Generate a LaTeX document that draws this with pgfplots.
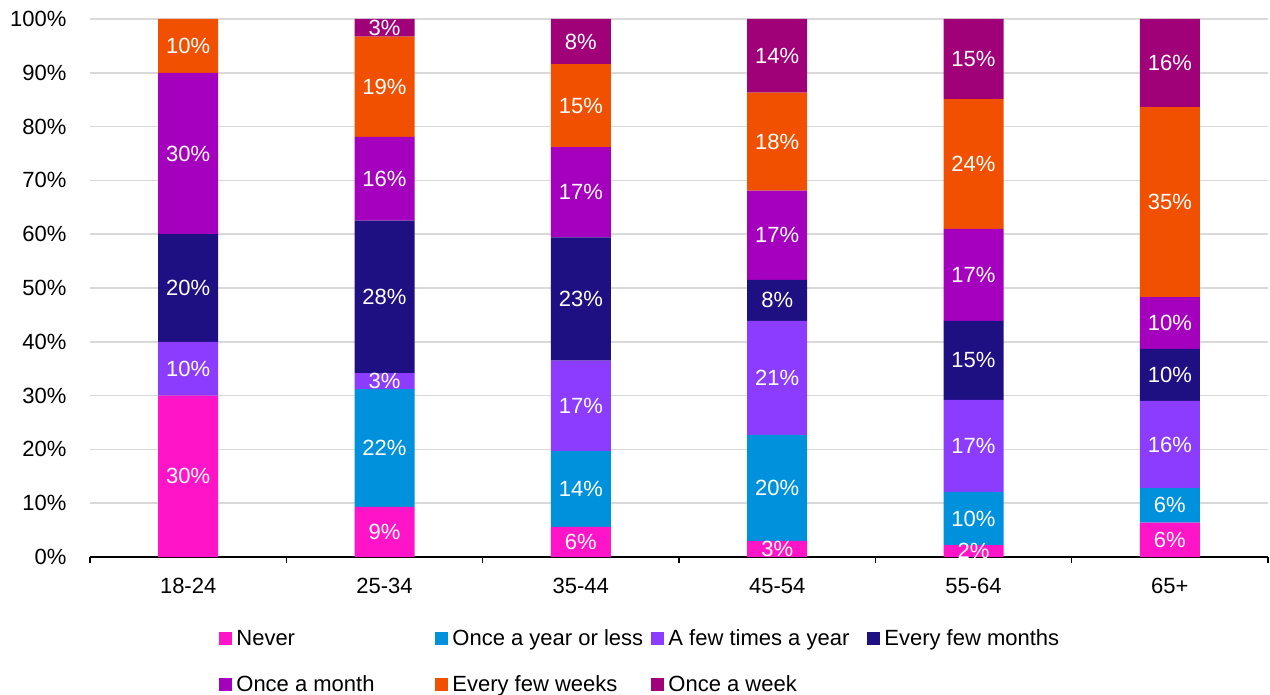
\documentclass[border=0pt]{standalone}
\usepackage{pgfplots}
\usepackage{pgfplotstable}
\pgfplotsset{compat=1.18}
\usepackage{fontspec}
\setmainfont{Liberation Sans}
\definecolor{cNever}{HTML}{FF14C8}
\definecolor{cYear}{HTML}{0091DC}
\definecolor{cFew}{HTML}{8C3CFF}
\definecolor{cMonths}{HTML}{1E0F82}
\definecolor{cMonth}{HTML}{A500BE}
\definecolor{cWeeks}{HTML}{F05000}
\definecolor{cWeek}{HTML}{A00078}
\definecolor{gridc}{HTML}{D9D9D9}
\newcommand{\lgt}[1]{\makebox[97.5pt][l]{\strut #1}}
\def\zerolbl{0}
\newcommand{\seglabel}{%
  \pgfmathprintnumberto[fixed,precision=0,assume math mode=true]{\pgfplotspointmeta}{\lbl}%
  \ifx\lbl\zerolbl\else\lbl\%\fi}
% columns: category index, share in percent
\pgfplotstableread{
x y
0 30.0
1 9.3
2 5.6
3 3.0
4 2.2
5 6.4
}\tNever
\pgfplotstableread{
x y
0 0.0
1 21.9
2 14.1
3 19.7
4 9.9
5 6.4
}\tYear
\pgfplotstableread{
x y
0 10.0
1 3.0
2 16.8
3 21.2
4 17.1
5 16.2
}\tFew
\pgfplotstableread{
x y
0 20.0
1 28.3
2 22.9
3 7.6
4 14.7
5 9.7
}\tMonths
\pgfplotstableread{
x y
0 30.0
1 15.6
2 16.8
3 16.6
4 17.1
5 9.6
}\tMonth
\pgfplotstableread{
x y
0 10.0
1 18.6
2 15.4
3 18.2
4 24.1
5 35.3
}\tWeeks
\pgfplotstableread{
x y
0 0.0
1 3.3
2 8.4
3 13.7
4 14.9
5 16.4
}\tWeek
\begin{document}
\begin{tikzpicture}
\begin{axis}[
  name=ax,
  scale only axis,
  width=589pt, height=269pt,
  ybar stacked,
  bar width=30pt,
  xmin=-0.5, xmax=5.5,
  ymin=0, ymax=100,
  xtick={0,...,5},
  xticklabels={18-24,25-34,35-44,45-54,55-64,65+},
  minor xtick={-0.5,0.5,...,5.5},
  major x tick style={draw=none},
  minor x tick style={black, line width=0.75pt},
  minor tick length=3pt,
  tick align=outside,
  ytick={0,10,...,100},
  yticklabels={0\%,10\%,20\%,30\%,40\%,50\%,60\%,70\%,80\%,90\%,100\%},
  ytick style={draw=none},
  ymajorgrids,
  grid style={gridc, line width=0.75pt},
  axis x line*=bottom,
  axis y line*=left,
  y axis line style={draw=none},
  x axis line style={black, line width=0.75pt},
  tick label style={font=\fontsize{11}{13}\selectfont},
  xticklabel style={yshift=-3pt},
  yticklabel style={xshift=-4pt},
  point meta=rawy,
  nodes near coords={\seglabel},
  every node near coord/.append style={text=white, anchor=center,
    font=\fontsize{11}{13}\selectfont},
  legend columns=4,
  legend style={draw=none, at={(0,0)}, anchor=north west, xshift=64.5pt, yshift=-33pt,
    font=\fontsize{11}{13}\selectfont, row sep=8.5pt, inner sep=0pt,
    /tikz/every even column/.append style={column sep=0pt}},
  legend image code/.code={\fill[#1, draw=none] (0pt,-3.25pt) rectangle (6.5pt,3.25pt);},
]
\addplot[fill=cNever, draw=none] table[x=x, y=y] {\tNever};
\addlegendentry{\lgt{Never}}
\addplot[fill=cYear, draw=none] table[x=x, y=y] {\tYear};
\addlegendentry{\lgt{Once a year or less}}
\addplot[fill=cFew, draw=none] table[x=x, y=y] {\tFew};
\addlegendentry{\lgt{A few times a year}}
\addplot[fill=cMonths, draw=none] table[x=x, y=y] {\tMonths};
\addlegendentry{\lgt{Every few months}}
\addplot[fill=cMonth, draw=none] table[x=x, y=y] {\tMonth};
\addlegendentry{\lgt{Once a month}}
\addplot[fill=cWeeks, draw=none] table[x=x, y=y] {\tWeeks};
\addlegendentry{\lgt{Every few weeks}}
\addplot[fill=cWeek, draw=none] table[x=x, y=y] {\tWeek};
\addlegendentry{\lgt{Once a week}}
\end{axis}
\pgfresetboundingbox
\path ([xshift=-45pt,yshift=-68.5pt]ax.south west) rectangle ([xshift=1pt,yshift=9.5pt]ax.north east);
\end{tikzpicture}
\end{document}
